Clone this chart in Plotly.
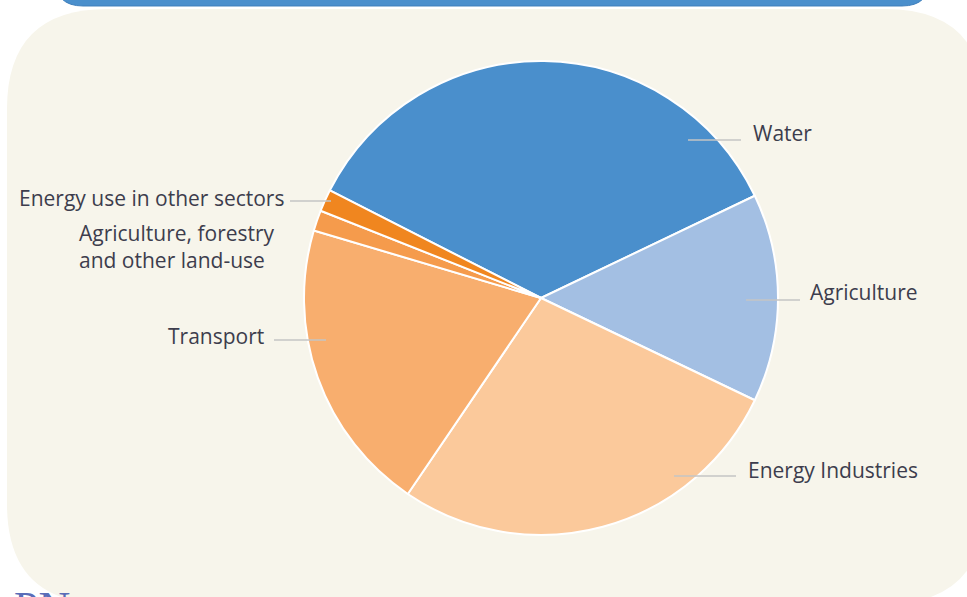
import plotly.graph_objects as go

# ---- data ----
categories = ["Water", "Agriculture", "Energy Industries", "Transport",
              "Agriculture, forestry and other land-use", "Energy use in other sectors"]
values = [35.4, 14.2, 27.4, 20.1, 1.4, 1.5]
colors = ["#4A8FCC", "#A3BFE3", "#FBC99B", "#F8AE6E", "#F59B4C", "#F0861F"]

W, H = 967, 597

def px(x):
    return x / W

def py(y):
    return 1 - y / H

fig = go.Figure()
fig.add_trace(go.Pie(
    labels=categories, values=values, sort=False, direction="clockwise",
    rotation=-63.0, marker=dict(colors=colors, line=dict(color="white", width=2)),
    textinfo="none", hoverinfo="label+percent", showlegend=False,
    domain=dict(x=[px(304), px(778)], y=[py(535), py(61)]),
))

# background shapes
def rrect(x0, y0, x1, y1, r):
    pts = [
        ("M", x0 + r, y0), ("L", x1 - r, y0), ("Q", x1, y0, x1, y0 + r),
        ("L", x1, y1 - r), ("Q", x1, y1, x1 - r, y1), ("L", x0 + r, y1),
        ("Q", x0, y1, x0, y1 - r), ("L", x0, y0 + r), ("Q", x0, y0, x0 + r, y0),
    ]
    parts = []
    for seg in pts:
        s = seg[0]
        c = seg[1:]
        for i in range(0, len(c), 2):
            s += f" {px(c[i]):.5f},{py(c[i+1]):.5f}"
        parts.append(s)
    return " ".join(parts) + " Z"

shapes = [
    dict(type="path", xref="paper", yref="paper", path=rrect(7, 9, 985, 604, 100),
         fillcolor="#F7F5EB", line=dict(width=0), layer="below"),
    dict(type="path", xref="paper", yref="paper", path=rrect(55, -40, 930, 6, 28),
         fillcolor="#4A8FCC", line=dict(color="#3F7FBC", width=1), layer="below"),
]

# leader lines: head point (inside the slice), horizontal length
line_head = [(688, 140), (746, 300), (674, 476), (326, 340), (331, 201)]
line_len = [53, 54, 62, -52, -41]
for (hx, hy), ln in zip(line_head, line_len):
    shapes.append(dict(type="line", xref="paper", yref="paper",
                       x0=px(hx), y0=py(hy), x1=px(hx + ln), y1=py(hy),
                       line=dict(color="#C4C4C4", width=1.5)))

# labels: text, edge x, centre y, anchor
label_text = ["Water", "Agriculture", "Energy Industries", "Transport",
              "Energy use in other sectors",
              "Agriculture, forestry<br>and other land-use"]
label_x = [752, 809, 747, 265, 285, 78]
label_y = [133, 292, 470, 336, 198, 246]
label_anchor = ["left", "left", "left", "right", "right", "left"]

font = dict(family="Open Sans", size=21, color="#3D3D4D")
annotations = []
for t, lx, ly, anc in zip(label_text, label_x, label_y, label_anchor):
    annotations.append(dict(
        text=t, xref="paper", yref="paper", x=px(lx), y=py(ly),
        xanchor=anc, yanchor="middle", align="left", showarrow=False,
        font=font, borderpad=0,
    ))

annotations.append(dict(
    text="PN", xref="paper", yref="paper", x=px(13), y=py(582), xanchor="left",
    yanchor="top", showarrow=False, borderpad=0,
    font=dict(family="Liberation Serif", size=44, color="#5A6DB8"),
))

fig.update_layout(
    width=W, height=H, margin=dict(l=0, r=0, t=0, b=0),
    paper_bgcolor="white", plot_bgcolor="white",
    shapes=shapes, annotations=annotations,
)

fig.write_html("out.html", config={"displayModeBar": False},
               post_script="document.body.style.margin='0';document.body.style.overflow='hidden';")
